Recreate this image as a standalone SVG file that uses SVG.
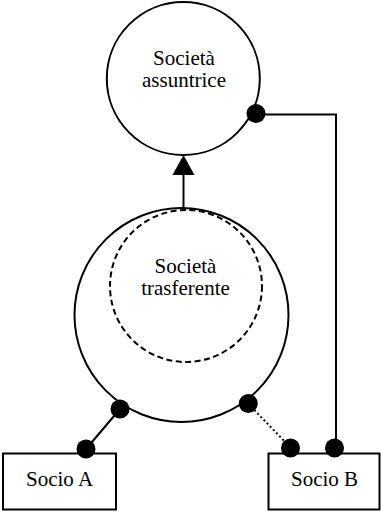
<svg xmlns="http://www.w3.org/2000/svg" width="381" height="512" viewBox="0 0 381 512">
<style>
.ln{fill:none;stroke:#000;stroke-width:2}
.dot{fill:#000}
.t{font-family:'Liberation Serif','Times New Roman',serif;font-size:21px;fill:#000;text-anchor:middle}
</style>
<rect width="381" height="512" fill="#fff"/>
<g id="connectors">
  <line class="ln" x1="183.5" y1="208" x2="183.5" y2="172"/>
  <polygon class="dot" points="183.5,155 172.5,175 194.5,175"/>
  <polyline class="ln" points="256,114.5 336,114.5 336,448"/>
  <line class="ln" x1="120" y1="409" x2="86" y2="449"/>
  <line class="ln" x1="248" y1="403.5" x2="291" y2="448" stroke-dasharray="2,2.5"/>
  <circle class="dot" cx="256" cy="113.5" r="9.5"/>
  <circle class="dot" cx="120" cy="409" r="9.5"/>
  <circle class="dot" cx="86" cy="449" r="9.5"/>
  <circle class="dot" cx="248.3" cy="403.5" r="9.5"/>
  <circle class="dot" cx="290.5" cy="448" r="9.5"/>
  <circle class="dot" cx="334.5" cy="448" r="9.5"/>
</g>
<g id="assuntrice">
  <circle class="ln" cx="183.3" cy="78.5" r="76.5"/>
  <text class="t" x="184" y="65">Società</text>
  <text class="t" x="184" y="87">assuntrice</text>
</g>
<g id="incorporante">
  <circle class="ln" cx="181.5" cy="315" r="107"/>
</g>
<g id="trasferente">
  <circle class="ln" cx="186" cy="286" r="76" stroke-dasharray="6,3.5"/>
  <text class="t" x="185.5" y="273">Società</text>
  <text class="t" x="185.5" y="295">trasferente</text>
</g>
<g id="socioA">
  <rect class="ln" x="3" y="453.5" width="113" height="56" fill="#fff"/>
  <text class="t" x="59.5" y="486">Socio A</text>
</g>
<g id="socioB">
  <rect class="ln" x="268.5" y="453.5" width="111" height="56" fill="#fff"/>
  <text class="t" x="324.5" y="486">Socio B</text>
</g>
</svg>
